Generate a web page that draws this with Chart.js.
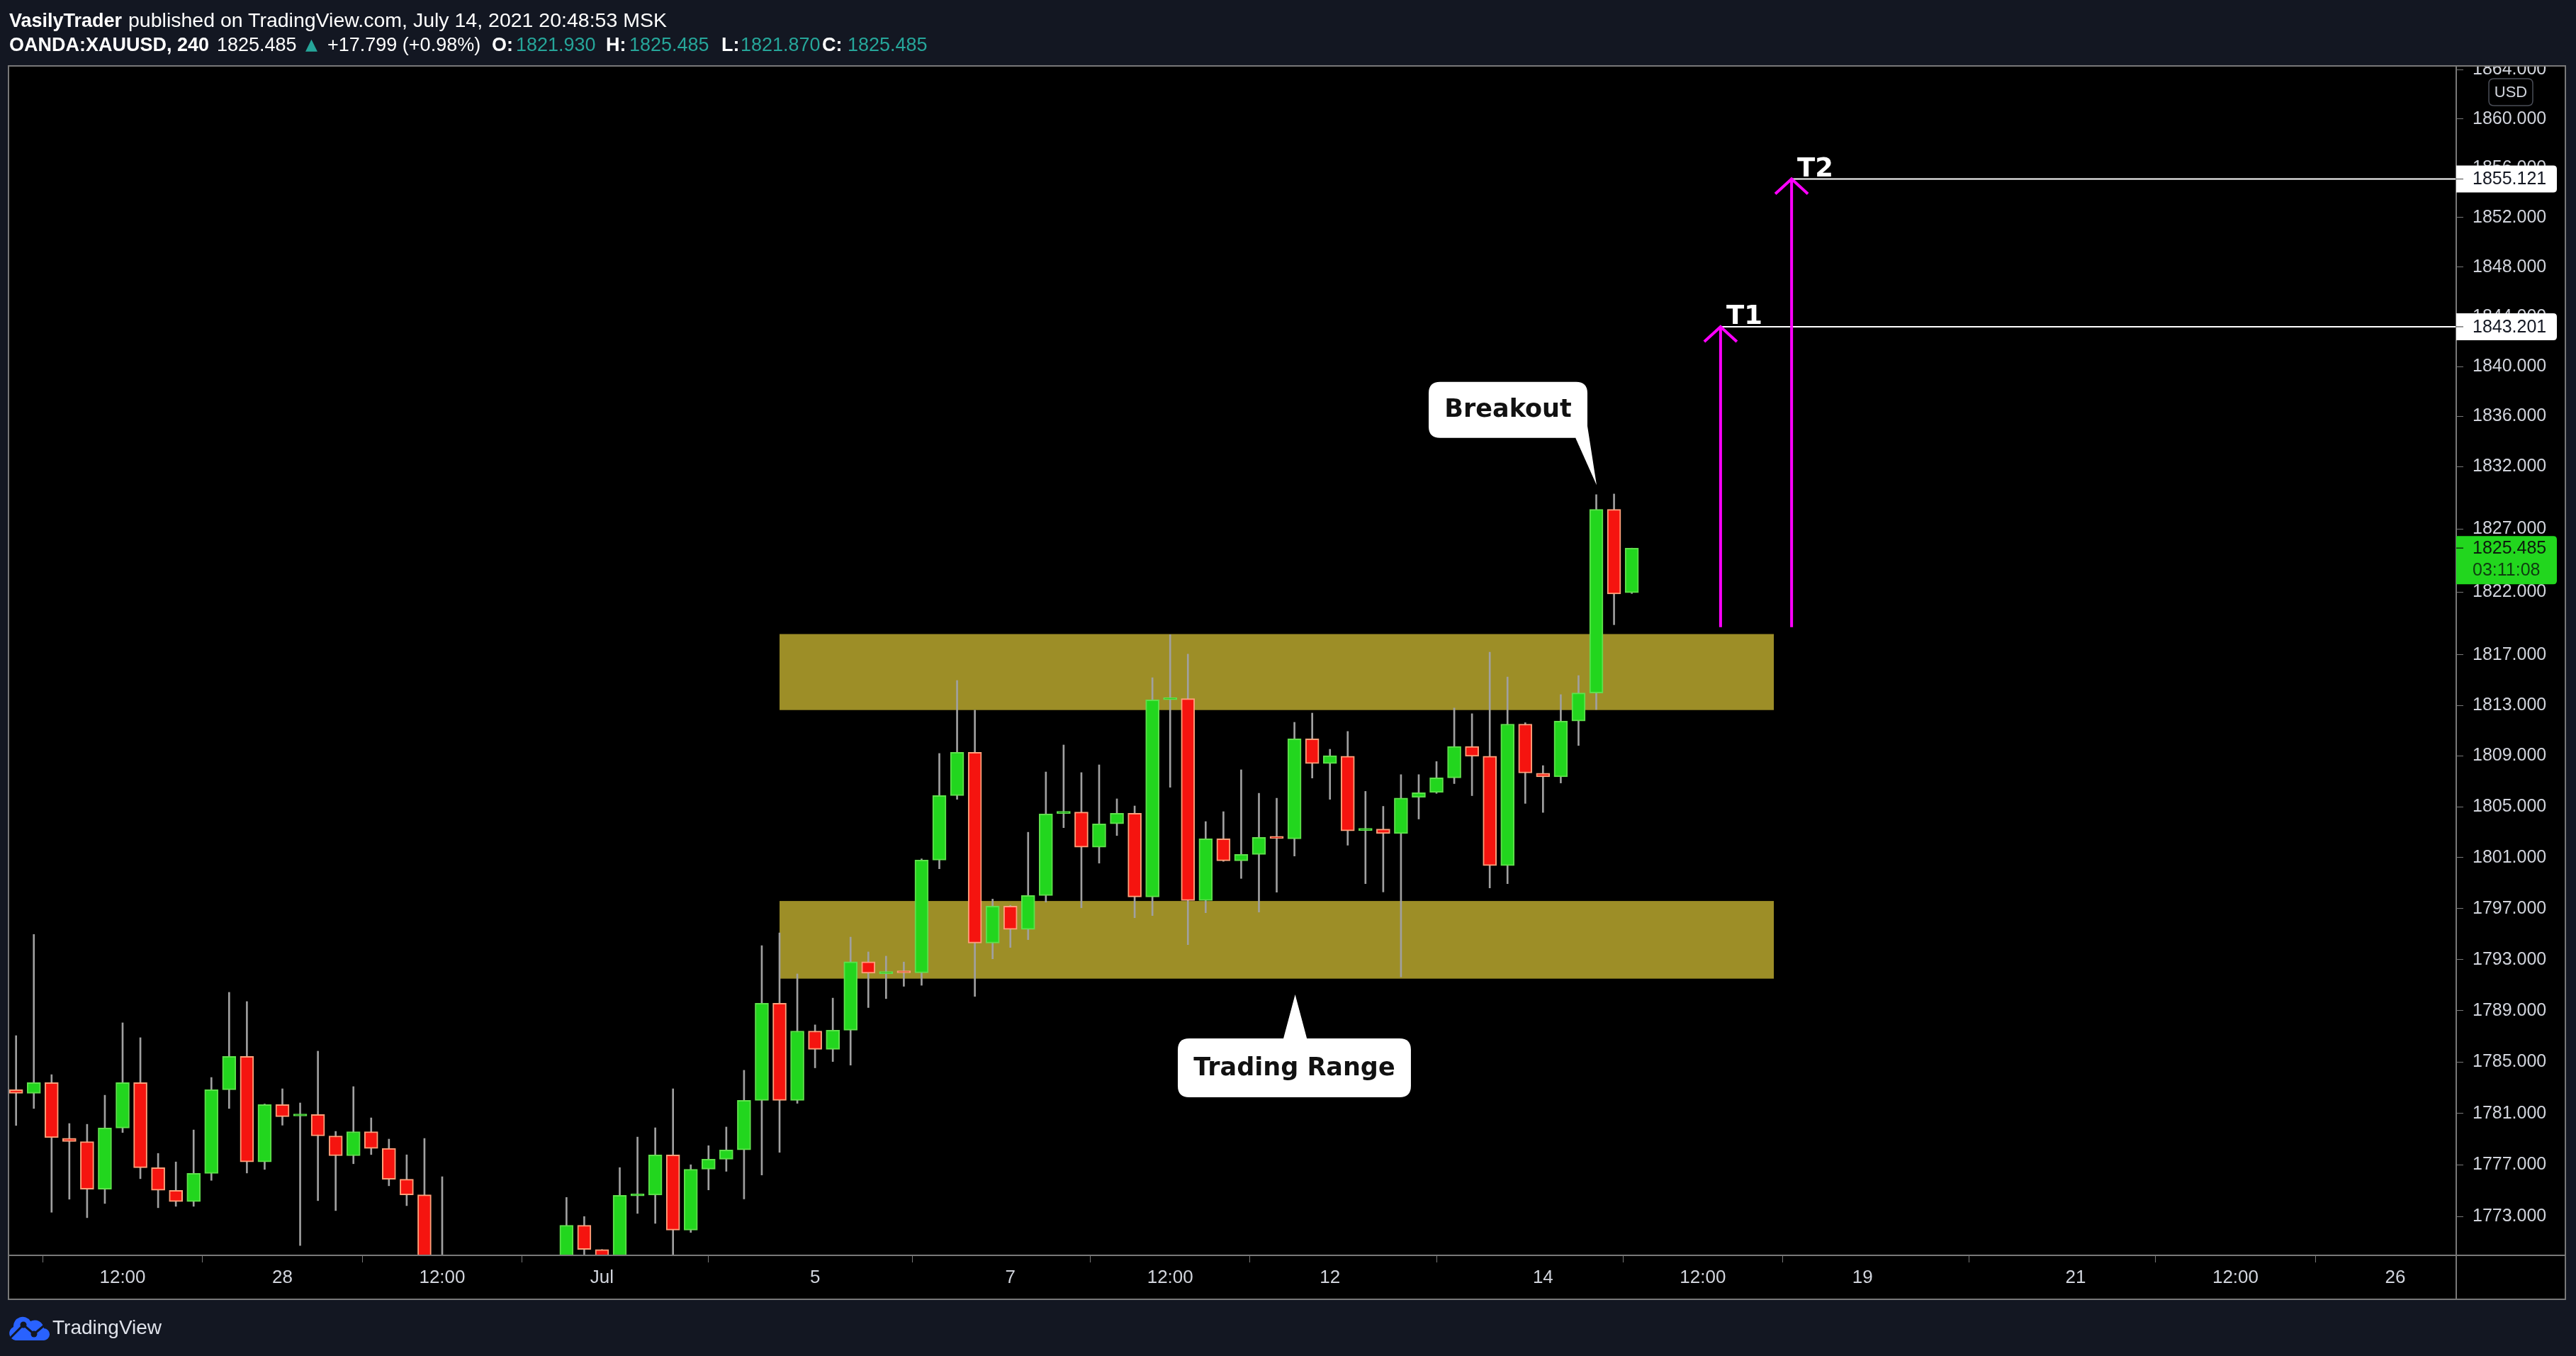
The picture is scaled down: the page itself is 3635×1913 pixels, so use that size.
<!DOCTYPE html>
<html><head><meta charset="utf-8">
<script src="https://cdn.jsdelivr.net/npm/chart.js@4.4.1/dist/chart.umd.min.js"></script>
<style>
html,body{margin:0;padding:0;background:#131722;}
body{width:3635px;height:1913px;position:relative;overflow:hidden;font-family:'Liberation Sans',Arial,sans-serif;}
#c{position:absolute;left:0;top:0;}
.t{position:absolute;white-space:nowrap;color:#ffffff;font-size:27px;line-height:32px;}
.b{font-weight:bold;}
.g{color:#26a69a;}
</style></head><body>
<canvas id="c" width="3635" height="1913"></canvas>
<div class="t b" style="left:13px;top:13px">VasilyTrader</div>
<div class="t" style="left:181px;top:12px;font-size:28.5px">published on TradingView.com, July 14, 2021 20:48:53 MSK</div>
<div class="t b" style="left:13px;top:47px">OANDA:XAUUSD, 240</div>
<div class="t" id="hLast" style="left:306px;top:47px"></div>
<div class="t g" style="left:431px;top:47px;font-size:22px;font-family:'DejaVu Sans'">▲</div>
<div class="t" style="left:462px;top:47px">+17.799 (+0.98%)</div>
<div class="t b" style="left:694px;top:47px">O:</div>
<div class="t g" id="hO" style="left:728px;top:47px"></div>
<div class="t b" style="left:855px;top:47px">H:</div>
<div class="t g" id="hH" style="left:888px;top:47px"></div>
<div class="t b" style="left:1018px;top:47px">L:</div>
<div class="t g" id="hL" style="left:1045px;top:47px"></div>
<div class="t b" style="left:1160px;top:47px">C:</div>
<div class="t g" id="hC" style="left:1196px;top:47px"></div>
<svg width="58" height="34" viewBox="0 0 58 34" style="position:absolute;left:12px;top:1857px">
<path fill="#2962ff" d="M10 34 A10 10 0 0 1 7 15 A13 13 0 0 1 31 7 A13 13 0 0 1 50 17 A8.5 8.5 0 0 1 49 34 Z"/>
<polyline points="2,31 21,12 36,25 55,9" stroke="#131722" stroke-width="3" fill="none"/>
<circle cx="21" cy="12" r="4.5" fill="#131722"/><circle cx="36" cy="25" r="4.5" fill="#131722"/>
</svg>
<div class="t" style="left:74px;top:1857px;font-size:28px;color:#e0e3eb">TradingView</div>
<script>
// ---------- data ----------
const xTickIndex  = [6, 15, 24, 33, 45, 56, 65, 74, 86, 95, 104, 116, 125, 134];
const xTickLabels = ['12:00','28','12:00','Jul','5','7','12:00','12','14','12:00','19','21','12:00','26'];
const yTickValues = [1773,1777,1781,1785,1789,1793,1797,1801,1805,1809,1813,1817,1822,1827,1832,1836,1840,1844,1848,1852,1856,1860,1864];

const openPrices = [
1782.85,1782.57,1783.40,1779.08,1778.82,1775.13,1779.87,1783.40,1776.79,1775.04,
1774.16,1776.35,1782.85,1785.44,1777.24,1781.69,1780.80,1780.92,1779.26,1777.72,
1779.59,1778.29,1775.90,1774.69,1765.10,1759.40,1754.10,1756.20,1760.90,1763.50,
1762.40,1766.90,1772.33,1770.46,1767.60,1774.60,1774.67,1777.78,1771.96,1776.68,
1777.45,1778.17,1782.02,1789.59,1782.02,1787.42,1785.99,1787.48,1792.83,1791.90,
1792.02,1791.97,1800.80,1805.88,1809.29,1794.30,1797.19,1795.37,1798.02,1804.47,
1804.58,1801.81,1803.65,1804.48,1797.91,1813.45,1813.53,1797.63,1802.47,1800.75,
1801.25,1802.56,1802.47,1810.35,1808.41,1808.98,1803.13,1803.24,1802.89,1805.74,
1806.13,1807.27,1809.75,1808.98,1800.37,1811.52,1807.64,1807.35,1811.76,1813.98,
1828.57,1821.93];
const highPrices = [
1787.06,1794.97,1784.02,1780.22,1780.16,1782.42,1788.06,1786.90,1777.90,1777.24,
1779.72,1783.80,1790.44,1789.72,1781.74,1782.92,1781.82,1785.85,1779.61,1783.09,
1780.66,1779.01,1777.79,1779.06,1776.09,1762.30,1757.50,1762.40,1764.80,1767.90,
1768.60,1774.49,1773.01,1770.46,1776.80,1779.17,1779.89,1782.92,1777.02,1778.50,
1779.95,1784.36,1794.09,1795.09,1791.88,1787.90,1789.99,1794.76,1793.60,1793.27,
1792.81,1800.90,1809.20,1814.97,1812.63,1797.74,1797.25,1802.99,1807.74,1809.87,
1807.69,1808.30,1805.62,1805.06,1815.19,1818.60,1817.06,1803.83,1804.61,1807.91,
1806.06,1805.67,1811.66,1812.39,1809.53,1810.94,1806.21,1805.03,1807.53,1807.53,
1808.56,1812.79,1812.34,1817.21,1815.25,1811.63,1808.24,1813.85,1815.36,1829.75,
1829.80,1825.485];
const lowPrices = [
1780.07,1781.39,1773.34,1774.35,1772.92,1774.02,1779.52,1775.94,1773.69,1773.80,
1773.80,1775.81,1781.39,1776.38,1776.66,1780.09,1770.77,1774.24,1773.47,1777.10,
1777.81,1775.39,1773.85,1764.20,1757.80,1752.60,1750.80,1755.00,1758.30,1761.20,
1760.80,1765.30,1768.40,1766.20,1766.90,1773.25,1772.48,1769.50,1771.78,1775.07,
1776.51,1774.37,1776.22,1777.98,1781.79,1784.55,1785.04,1784.76,1789.25,1789.95,
1790.91,1790.99,1800.12,1805.58,1790.12,1793.06,1793.95,1794.56,1797.50,1803.35,
1797.06,1800.56,1802.73,1796.28,1796.45,1806.53,1794.17,1796.67,1800.70,1799.36,
1796.72,1798.28,1801.12,1807.26,1805.58,1801.97,1798.95,1798.30,1791.64,1804.03,
1806.05,1806.82,1805.87,1798.61,1798.95,1805.26,1804.55,1806.87,1809.83,1812.68,
1819.39,1821.87];
const closePrices = [
1782.57,1783.40,1779.12,1778.82,1775.13,1779.87,1783.40,1776.79,1775.04,1774.16,
1776.35,1782.85,1785.44,1777.24,1781.69,1780.75,1780.90,1779.26,1777.72,1779.59,
1778.29,1775.90,1774.69,1765.10,1759.40,1754.10,1756.20,1760.90,1763.50,1762.40,
1766.90,1772.33,1770.46,1767.60,1774.65,1774.70,1777.78,1771.96,1776.67,1777.45,
1778.17,1782.02,1789.59,1782.02,1787.42,1785.99,1787.48,1792.83,1791.94,1792.00,
1791.96,1800.80,1805.88,1809.29,1794.30,1797.19,1795.37,1798.02,1804.43,1804.57,
1801.81,1803.65,1804.48,1797.91,1813.43,1813.55,1797.63,1802.47,1800.75,1801.25,
1802.59,1802.50,1810.35,1808.41,1809.03,1803.10,1803.23,1802.89,1805.69,1806.11,
1807.27,1809.75,1808.98,1800.37,1811.52,1807.66,1807.35,1811.76,1813.98,1828.57,
1821.83,1825.485];

// trading-range zones (price bands) and their index span
const zoneLow  = [1791.51, 1812.63];
const zoneHigh = [1797.59, 1818.65];
const zoneSpan = [43, 99];
// targets
const targetNames  = ['T1', 'T2'];
const targetPrices = [1843.201, 1855.121];
const targetIndex  = [96, 100];
const arrowBase    = 1819.2;
const countdownText = '03:11:08';
// callouts (data coordinates)
const notes = [
  {text:'Breakout', left:79.56, right:88.5, top:1838.77, bottom:1834.29,
   tail:[[87.83,1834.29],[89.02,1830.5],[88.5,1835.23]]},
  {text:'Trading Range', left:65.43, right:78.56, top:1786.84, bottom:1782.26,
   tail:[[71.38,1786.84],[72.04,1790.27],[72.70,1786.84]]}
];
const xMin = -0.3864, xMax = 137.434, yMin = 1770.01, yMax = 1864.24;

// ---------- header ----------
const last = openPrices.length - 1;
document.getElementById('hLast').textContent = closePrices[last].toFixed(3);
document.getElementById('hO').textContent = openPrices[last].toFixed(3);
document.getElementById('hH').textContent = highPrices[last].toFixed(3);
document.getElementById('hL').textContent = lowPrices[last].toFixed(3);
document.getElementById('hC').textContent = closePrices[last].toFixed(3);

// ---------- datasets ----------
const idx = openPrices.map((_, i) => i);
const up = idx.map(i => closePrices[i] >= openPrices[i]);
const FONT = "'Liberation Sans', Arial, sans-serif";
const GREY = '#787878';

const datasets = [
  {type:'bar', data: idx.map(i => ({x:i, y:[lowPrices[i], highPrices[i]]})),
   backgroundColor:'#a0a0a0', borderWidth:0, barThickness:2, grouped:false, order:5},
  {type:'bar', data: idx.map(i => ({x:i, y:[openPrices[i], closePrices[i]]})),
   backgroundColor: up.map(u => u ? '#22d61e' : '#f5140f'),
   borderColor: up.map(u => u ? '#5fe04c' : '#ffa07a'),
   borderWidth:2, borderSkipped:false, barThickness:19, minBarLength:3, grouped:false, order:4}
];
targetPrices.forEach((p, k) => {
  datasets.push({type:'line', data:[{x:targetIndex[k], y:p}, {x:xMax, y:p}],
    borderColor:'#ffffff', borderWidth:2, pointRadius:0, fill:false, order:2});
  datasets.push({type:'line', data:[{x:targetIndex[k], y:arrowBase}, {x:targetIndex[k], y:p}],
    borderColor:'#ff00ff', borderWidth:4, pointRadius:0, fill:false, order:1});
});

function rr(c, x, y, w, h, r) {
  c.beginPath();
  c.moveTo(x + r, y); c.lineTo(x + w - r, y); c.quadraticCurveTo(x + w, y, x + w, y + r);
  c.lineTo(x + w, y + h - r); c.quadraticCurveTo(x + w, y + h, x + w - r, y + h);
  c.lineTo(x + r, y + h); c.quadraticCurveTo(x, y + h, x, y + h - r);
  c.lineTo(x, y + r); c.quadraticCurveTo(x, y, x + r, y); c.closePath();
}
function rrRight(c, x, y, w, h, r) {
  c.beginPath();
  c.moveTo(x, y); c.lineTo(x + w - r, y); c.quadraticCurveTo(x + w, y, x + w, y + r);
  c.lineTo(x + w, y + h - r); c.quadraticCurveTo(x + w, y + h, x + w - r, y + h);
  c.lineTo(x, y + h); c.closePath();
}

const tvPlugin = {
  id: 'tv',
  beforeDraw(chart) {
    const c = chart.ctx, a = chart.chartArea, xs = chart.scales.x, ys = chart.scales.y;
    c.save();
    c.fillStyle = '#000000';
    c.fillRect(a.left, a.top, ys.right - a.left, xs.bottom - a.top);
    c.restore();
  },
  beforeDatasetsDraw(chart) {
    const c = chart.ctx, a = chart.chartArea, xs = chart.scales.x, ys = chart.scales.y;
    c.save();
    c.beginPath(); c.rect(a.left, a.top, a.right - a.left, a.bottom - a.top); c.clip();
    c.fillStyle = '#9d8e27';
    const x0 = xs.getPixelForValue(zoneSpan[0]), x1 = xs.getPixelForValue(zoneSpan[1]);
    for (let k = 0; k < zoneLow.length; k++) {
      const y0 = ys.getPixelForValue(zoneHigh[k]), y1 = ys.getPixelForValue(zoneLow[k]);
      c.fillRect(x0, y0, x1 - x0, y1 - y0);
    }
    c.restore();
  },
  afterDatasetsDraw(chart) {
    const c = chart.ctx, xs = chart.scales.x, ys = chart.scales.y;
    c.save();
    targetPrices.forEach((p, k) => {
      const tx = xs.getPixelForValue(targetIndex[k]), ty = ys.getPixelForValue(p);
      c.strokeStyle = '#ff00ff'; c.lineWidth = 4; c.lineCap = 'butt';
      c.beginPath(); c.moveTo(tx - 23, ty + 21); c.lineTo(tx, ty); c.lineTo(tx + 23, ty + 21); c.stroke();
      c.fillStyle = '#ffffff'; c.font = "bold 37px 'DejaVu Sans'";
      c.textAlign = 'left'; c.textBaseline = 'alphabetic';
      c.fillText(targetNames[k], tx + 8, ty - 4);
    });
    notes.forEach(n => {
      const L = xs.getPixelForValue(n.left), R = xs.getPixelForValue(n.right);
      const T = ys.getPixelForValue(n.top), B = ys.getPixelForValue(n.bottom);
      c.fillStyle = '#ffffff';
      rr(c, L, T, R - L, B - T, 16); c.fill();
      c.beginPath();
      n.tail.forEach((pt, j) => {
        const px = xs.getPixelForValue(pt[0]), py = ys.getPixelForValue(pt[1]);
        if (j === 0) c.moveTo(px, py); else c.lineTo(px, py);
      });
      c.closePath(); c.fill();
      c.fillStyle = '#111111'; c.font = "bold 35px 'DejaVu Sans'";
      c.textAlign = 'center'; c.textBaseline = 'middle';
      c.fillText(n.text, (L + R) / 2, (T + B) / 2 + 1);
    });
    c.restore();
  },
  afterDraw(chart) {
    const c = chart.ctx, a = chart.chartArea, xs = chart.scales.x, ys = chart.scales.y;
    c.save();
    c.fillStyle = '#131722';
    c.fillRect(0, 0, chart.width, a.top - 1);
    c.strokeStyle = GREY; c.lineWidth = 2;
    c.strokeRect(a.left - 1, a.top - 1, ys.right - a.left + 1, xs.bottom - a.top + 1);
    c.beginPath();
    c.moveTo(a.right, a.top - 1); c.lineTo(a.right, xs.bottom);
    c.moveTo(a.left - 1, a.bottom); c.lineTo(ys.right, a.bottom);
    c.stroke();
    c.font = '25px ' + FONT; c.textAlign = 'left'; c.textBaseline = 'middle';
    targetPrices.forEach(p => {
      const y = ys.getPixelForValue(p);
      c.fillStyle = '#ffffff';
      rrRight(c, a.right, y - 19, 142, 38, 5); c.fill();
      c.strokeStyle = GREY; c.lineWidth = 1.5;
      c.beginPath(); c.moveTo(a.right, y); c.lineTo(a.right + 10, y); c.stroke();
      c.fillStyle = '#131722';
      c.fillText(p.toFixed(3), a.right + 23, y + 1);
    });
    const lp = closePrices[last], ly = ys.getPixelForValue(lp);
    c.fillStyle = '#22d61e';
    rrRight(c, a.right, ly - 17, 142, 68, 5); c.fill();
    c.strokeStyle = '#0b3a0b'; c.lineWidth = 1.5;
    c.beginPath(); c.moveTo(a.right, ly); c.lineTo(a.right + 10, ly); c.stroke();
    c.fillStyle = '#0d1a0d';
    c.fillText(lp.toFixed(3), a.right + 23, ly + 1);
    c.fillStyle = '#0f3d10';
    c.fillText(countdownText, a.right + 23, ly + 32);
    c.strokeStyle = '#4a4d57'; c.lineWidth = 1.5;
    rr(c, a.right + 46, a.top + 17, 62, 38, 7); c.stroke();
    c.fillStyle = '#d1d4dc'; c.font = '22px ' + FONT; c.textAlign = 'center';
    c.fillText('USD', a.right + 77, a.top + 37);
    c.restore();
  }
};

new Chart(document.getElementById('c').getContext('2d'), {
  type: 'bar',
  data: { datasets },
  options: {
    responsive: false, animation: false, devicePixelRatio: 1,
    layout: { padding: { left: 13, top: 94, right: 15, bottom: 80 } },
    plugins: { legend: { display: false }, tooltip: { enabled: false } },
    scales: {
      x: {
        type: 'linear', min: xMin, max: xMax, offset: false, bounds: 'data',
        afterBuildTicks: s => { s.ticks = xTickIndex.map(v => ({ value: v })); },
        afterFit: s => { s.height = 62; },
        grid: { display: true, drawOnChartArea: false, drawTicks: true, tickLength: 10, tickColor: GREY, tickWidth: 1 },
        border: { display: false },
        ticks: {
          autoSkip: false, maxRotation: 0, padding: 6, color: '#d1d4dc',
          font: { family: FONT, size: 26 },
          callback: v => { const k = xTickIndex.indexOf(Math.round(v)); return k >= 0 ? xTickLabels[k] : ''; }
        }
      },
      y: {
        type: 'logarithmic', position: 'right', min: yMin, max: yMax, bounds: 'data',
        afterBuildTicks: s => { s.ticks = yTickValues.map(v => ({ value: v })); },
        afterFit: s => { s.width = 154; },
        grid: { display: true, drawOnChartArea: false, drawTicks: true, tickLength: 10, tickColor: GREY, tickWidth: 1 },
        border: { display: false },
        ticks: {
          autoSkip: false, padding: 13, color: '#d1d4dc',
          font: { family: FONT, size: 25 },
          callback: v => Number(v).toFixed(3)
        }
      }
    }
  },
  plugins: [tvPlugin]
});
</script>
</body></html>
